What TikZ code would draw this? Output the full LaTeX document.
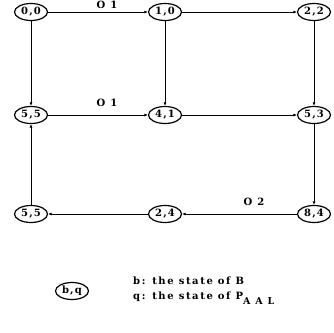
\documentclass[tikz,border=0pt]{standalone}
\usepackage{fontspec}
\setmainfont{DejaVu Serif}
\newfontfamily\spacedfont[LetterSpace=12]{DejaVu Serif}
\newfontfamily\widefont[LetterSpace=16]{DejaVu Serif}
\usetikzlibrary{shapes.geometric,arrows.meta}
\begin{document}
\begin{tikzpicture}[x=1pt,y=-1pt,
  state/.style={draw, ellipse, line width=1.2pt, minimum width=33pt, minimum height=17pt,
    inner sep=0pt, font=\spacedfont\bfseries\fontsize{10}{11}\selectfont},
  link/.style={line width=0.8pt, -{Latex[length=3.5pt,width=3pt]}},
  tag/.style={inner sep=0pt, font=\widefont\bfseries\fontsize{10}{11}\selectfont},
  note/.style={inner sep=0pt, anchor=west, font=\widefont\bfseries\fontsize{10}{12}\selectfont}]
\useasboundingbox (0,0) rectangle (334,332);
% state nodes (b,q)
\node[state] (a1) at (31,12) {0,0};
\node[state] (a2) at (165,12) {1,0};
\node[state] (a3) at (314,12) {2,2};
\node[state] (b1) at (31,115) {5,5};
\node[state] (b2) at (165,115) {4,1};
\node[state] (b3) at (314,115) {5,3};
\node[state] (c1) at (31,214) {5,5};
\node[state] (c2) at (165,214) {2,4};
\node[state] (c3) at (314,214) {8,4};
% transitions
\draw[link] (a1) -- (a2);
\draw[link] (a2) -- (a3);
\draw[link] (a1) -- (b1);
\draw[link] (a2) -- (b2);
\draw[link] (a3) -- (b3);
\draw[link] (b1) -- (b2);
\draw[link] (b2) -- (b3);
\draw[link] (b3) -- (c3);
\draw[link] (c3) -- (c2);
\draw[link] (c2) -- (c1);
\draw[link] (c1) -- (b1);
% transition labels
\node[tag] (o1) at (107,5) {O 1};
\node[tag] (o2) at (107,103) {O 1};
\node[tag] (o3) at (254,202) {O 2};
% legend
\node[state] (key) at (72,291) {b,q};
\node[note] (kb) at (133,281) {b: the state of B};
\node[note] (kq) at (133,298) {q: the state of P\raisebox{-5pt}{\fontsize{9.5}{10}\selectfont A A L}};
\end{tikzpicture}
\end{document}
